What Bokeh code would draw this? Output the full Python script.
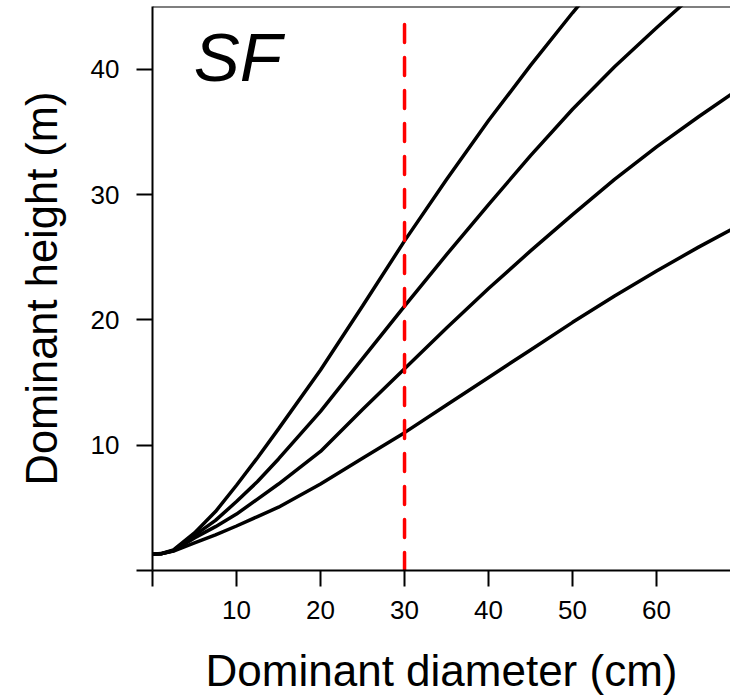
from bokeh.plotting import figure
from bokeh.models import Range1d, FixedTicker, Span, Label
from bokeh.embed import file_html
from bokeh.resources import INLINE

# Dominant diameter (cm)
diameter = [0, 1, 2.5, 5, 7.5, 10, 12.5, 15, 20, 25, 30, 35, 40, 45, 50, 55, 60, 65, 70]

# Dominant height (m) of the four site-index curves
height_si26 = [1.3, 1.35, 1.65, 3.0, 4.7, 6.8, 9.0, 11.3, 16.0, 21.1, 26.3, 31.2, 35.9, 40.3, 44.5, 48.5, 52.2, 55.7, 59.0]
height_si21 = [1.3, 1.33, 1.6, 2.8, 4.0, 5.5, 7.1, 8.9, 12.7, 16.9, 21.1, 25.2, 29.2, 33.1, 36.8, 40.2, 43.3, 46.3, 49.1]
height_si16 = [1.3, 1.33, 1.58, 2.6, 3.5, 4.5, 5.7, 6.9, 9.5, 12.85, 16.1, 19.35, 22.5, 25.5, 28.4, 31.2, 33.8, 36.2, 38.5]
height_si11 = [1.3, 1.33, 1.55, 2.2, 2.85, 3.55, 4.3, 5.05, 6.9, 8.95, 11.0, 13.2, 15.4, 17.6, 19.8, 21.9, 23.9, 25.8, 27.6]

curves = [height_si26, height_si21, height_si16, height_si11]

# reference diameter (red dashed line)
ref_diameter = 30
ref_height_top = 44

x_ticks = [0, 10, 20, 30, 40, 50, 60]
y_ticks = [0, 10, 20, 30, 40]
panel_label = "SF"

FONT = "Liberation Sans"

p = figure(width=730, height=697, output_backend="svg", toolbar_location=None,
           x_range=Range1d(0, 68.8), y_range=Range1d(0, 45),
           min_border_left=152, min_border_right=0, min_border_top=6,
           min_border_bottom=127,
           x_axis_label="Dominant diameter (cm)",
           y_axis_label="Dominant height (m)")

p.xgrid.visible = False
p.ygrid.visible = False
p.outline_line_color = None
p.background_fill_color = "white"
p.border_fill_color = "white"

for ax, ticks in ((p.xaxis[0], x_ticks), (p.yaxis[0], y_ticks)):
    ax.ticker = FixedTicker(ticks=ticks)
    ax.major_label_overrides = {0: ""}
    ax.minor_tick_line_color = None
    ax.major_tick_in = 0
    ax.major_tick_out = 16
    ax.major_tick_line_width = 2
    ax.major_tick_line_color = "black"
    ax.axis_line_width = 2
    ax.axis_line_color = "black"
    ax.major_label_text_font = FONT
    ax.major_label_text_font_size = "26px"
    ax.major_label_text_color = "black"
    ax.axis_label_text_font = FONT
    ax.axis_label_text_font_style = "normal"
    ax.axis_label_text_color = "black"

p.xaxis[0].axis_label_text_font_size = "44px"
p.yaxis[0].axis_label_text_font_size = "43.5px"
p.xaxis[0].major_label_standoff = 14
p.yaxis[0].major_label_standoff = 17
p.xaxis[0].axis_label_standoff = 24
p.yaxis[0].axis_label_standoff = 22

for h in curves:
    p.line(diameter, h, line_color="black", line_width=3.5)

p.segment(x0=[ref_diameter], y0=[0], x1=[ref_diameter], y1=[ref_height_top],
          line_color="red", line_width=3.5, line_dash="18 15", line_cap="round")

p.add_layout(Span(location=45, dimension="width", line_color="black", line_width=2))

p.add_layout(Label(x=4.9, y=40.9, text=panel_label, text_font=FONT,
                   text_font_size="69px", text_font_style="italic",
                   text_color="black", text_baseline="middle", text_align="left"))

open("out.html", "w").write(file_html(p, INLINE))
